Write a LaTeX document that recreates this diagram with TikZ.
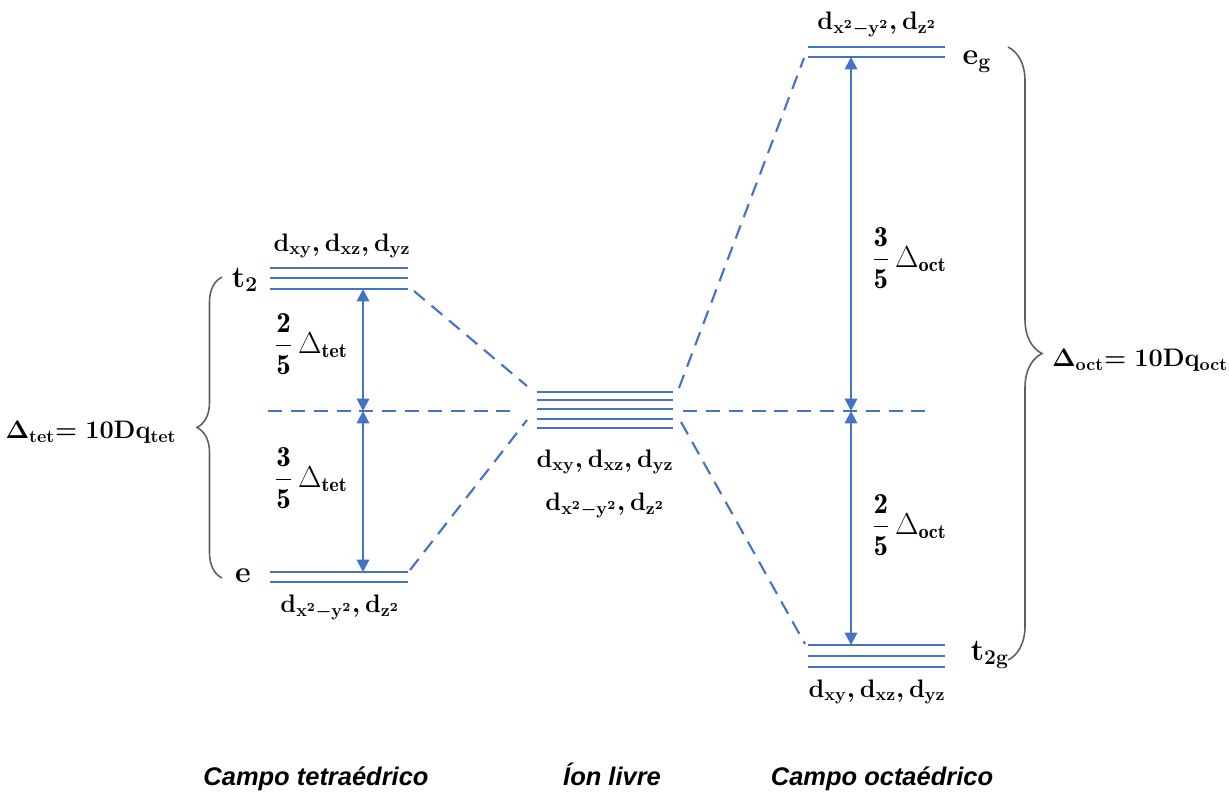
\documentclass[tikz,border=0pt]{standalone}
\usepackage{amsmath}
\usepackage{fontspec}
\usepackage{tikz}
\usetikzlibrary{positioning,arrows.meta,decorations.pathreplacing}
\newfontfamily\capfont{Liberation Sans}
\definecolor{lvlblue}{RGB}{68,114,196}
\definecolor{bracegray}{RGB}{95,95,95}
\tikzset{
  lvl/.style={lvlblue,line width=1.3pt},
  con/.style={lvlblue,line width=1.2pt,dash pattern={on 8pt off 5pt}},
  gap/.style={{Triangle[length=7pt,width=7pt]}-{Triangle[length=7pt,width=7pt]},lvlblue,line width=1.2pt},
  orb/.style={font=\fontsize{14}{16}\selectfont\boldmath},
  sym/.style={font=\fontsize{17}{19}\selectfont\boldmath},
  frc/.style={font=\fontsize{16.5}{18}\selectfont},
  eqn/.style={font=\fontsize{14.5}{18}\selectfont\boldmath},
  brc/.style={decorate,decoration={brace,amplitude=#1},bracegray,line width=0.9pt},
  caption/.style={font=\capfont\bfseries\itshape\fontsize{14.5}{17}\selectfont,anchor=base},
}

\begin{document}
\begin{tikzpicture}[x=0.02cm,y=-0.02cm]
  \useasboundingbox (0,0) rectangle (1229,792);
  % energy levels
  \foreach \y in {268,278,289} {\draw[lvl] (270,\y) -- (408,\y);}
  \foreach \y in {572,582} {\draw[lvl] (270,\y) -- (408,\y);}
  \foreach \y in {392,400,409,419,428} {\draw[lvl] (537,\y) -- (673,\y);}
  \foreach \y in {47,57} {\draw[lvl] (808,\y) -- (945,\y);}
  \foreach \y in {645,656,667} {\draw[lvl] (808,\y) -- (945,\y);}
  % barycentre
  \coordinate (barL) at (268,411); \coordinate (barLe) at (515,411);
  \coordinate (barR) at (683,411); \coordinate (barRe) at (930,411);
  \draw[con] (barL) -- (barLe);
  \draw[con] (barR) -- (barRe);
  % correlation lines
  \coordinate (t2R) at (414,291); \coordinate (eR) at (410,570);
  \coordinate (ionLt) at (527,386); \coordinate (ionLb) at (527,420);
  \coordinate (ionRt) at (679,388); \coordinate (ionRb) at (681,422);
  \coordinate (egL) at (804,58); \coordinate (t2gL) at (805,644);
  \draw[con] (t2R) -- (ionLt);
  \draw[con] (eR) -- (ionLb);
  \draw[con] (ionRt) -- (egL);
  \draw[con] (ionRb) -- (t2gL);
  % splitting arrows
  \coordinate (tetA) at (363,289); \coordinate (tetM) at (363,411); \coordinate (tetB) at (363,572);
  \coordinate (octA) at (851,57); \coordinate (octM) at (851,411); \coordinate (octB) at (851,645);
  \draw[gap] (tetM) -- (tetA);
  \draw[gap] (tetM) -- (tetB);
  \draw[gap] (octM) -- (octA);
  \draw[gap] (octM) -- (octB);
  % labels
  \node[sym] (t2lbl) at (245,280) {$\mathbf{t_2}$};
  \node[sym] (elbl) at (243,576) {$\mathbf{e}$};
  \node[sym] (eglbl) at (977,62) {$\mathbf{e_g}$};
  \node[sym] (t2glbl) at (990,655) {$\mathbf{t_{2g}}$};
  \node[orb] (tetup) at (342,246) {$\mathbf{d_{xy}, d_{xz}, d_{yz}}$};
  \node[orb] (tetdn) at (340,607) {$\mathbf{d_{x^2-y^2}, d_{z^2}}$};
  \node[orb] (ionup) at (605,462) {$\mathbf{d_{xy}, d_{xz}, d_{yz}}$};
  \node[orb] (iondn) at (605,505) {$\mathbf{d_{x^2-y^2}, d_{z^2}}$};
  \node[orb] (octup) at (877,24) {$\mathbf{d_{x^2-y^2}, d_{z^2}}$};
  \node[orb] (octdn) at (877,692) {$\mathbf{d_{xy}, d_{xz}, d_{yz}}$};
  \node[frc] (fractet2) at (311,344) {$\mathbf{\dfrac{2}{5}}\,\Delta_{\mathbf{tet}}$};
  \node[frc] (fractet3) at (311,478) {$\mathbf{\dfrac{3}{5}}\,\Delta_{\mathbf{tet}}$};
  \node[frc] (fracoct3) at (909,258) {$\mathbf{\dfrac{3}{5}}\,\Delta_{\mathbf{oct}}$};
  \node[frc] (fracoct2) at (909,525) {$\mathbf{\dfrac{2}{5}}\,\Delta_{\mathbf{oct}}$};
  % braces
  \coordinate (bLb) at (222,578); \coordinate (bLt) at (222,277);
  \coordinate (bRt) at (1008,47); \coordinate (bRb) at (1008,660);
  \draw[brc=0.5cm] (bLb) -- (bLt);
  \draw[brc=0.68cm] (bRt) -- (bRb);
  \node[eqn] (deltet) at (91,432) {$\mathbf{\Delta_{tet}{=}\;10Dq_{tet}}$};
  \node[eqn] (deloct) at (1140,360) {$\mathbf{\Delta_{oct}{=}\;10Dq_{oct}}$};
  % captions
  \node[caption] (captet) at (316,785) {Campo tetraédrico};
  \node[caption] (capion) at (612,785) {Íon livre};
  \node[caption] (capoct) at (882,785) {Campo octaédrico};
\end{tikzpicture}
\end{document}
